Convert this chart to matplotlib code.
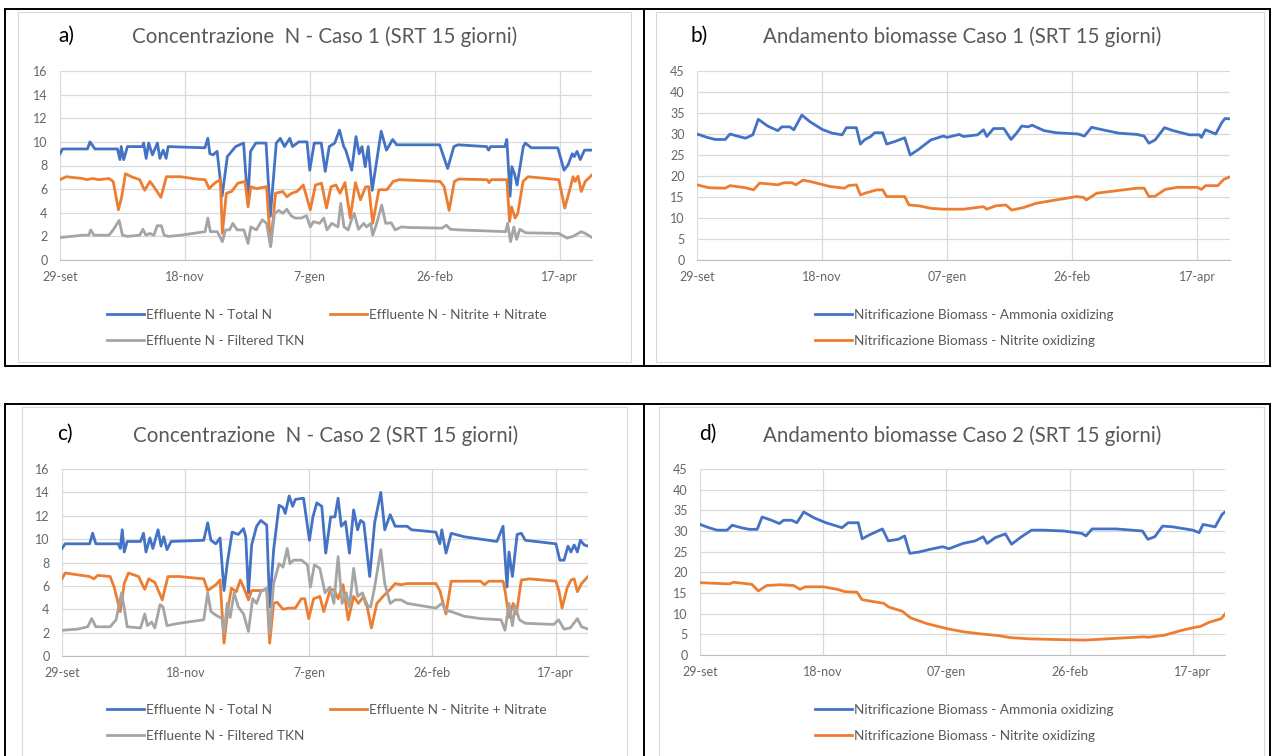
import matplotlib.pyplot as plt
from matplotlib.lines import Line2D
from matplotlib.patches import Rectangle

plt.rcParams['font.family'] = ['Lato', 'DejaVu Sans']

# ---- Caso 1: concentrazioni N (days from 29-set) ----
a_tn_day = [0, 1, 11, 12, 14, 23, 24, 24.5, 25.5, 27, 33, 33.5, 34.5, 35.5, 37, 39, 40, 41.3, 42.5, 43.3,
            58, 59.2, 60, 61.3, 62.9, 64.9, 67, 70.3, 73.5, 75.2, 76.3, 78.4, 82.5, 84.2, 86.6, 88.2, 89.9,
            92, 93.1, 95.6, 98.9, 100, 101.8, 104.6, 106.2, 107.8, 110, 111.9, 113.6, 114.4, 115.2, 116.8,
            118.5, 119.8, 120.9, 122.2, 123.4, 125, 128.6, 130.7, 133.2, 134.8, 152, 155.2, 157.7, 159.3,
            170.8, 171.6, 172.4, 178.1, 178.9, 180.2, 180.9, 181.9, 183, 185.5, 186.3, 188.7, 199.3, 201.8,
            203.4, 205.1, 205.9, 207, 208.3, 210, 213]
a_tn_val = [9.0, 9.4, 9.4, 10.0, 9.4, 9.4, 8.5, 9.6, 8.5, 9.6, 9.6, 9.9, 8.6, 9.9, 8.9, 9.9, 8.6, 9.3, 8.6, 9.6,
            9.5, 10.3, 9.0, 8.9, 9.2, 5.4, 8.75, 9.6, 9.9, 4.8, 9.2, 9.9, 9.9, 3.7, 9.9, 10.3, 9.6,
            10.3, 9.6, 10.0, 10.0, 7.6, 9.9, 9.9, 7.5, 9.6, 9.9, 11.0, 9.6, 9.3, 8.75, 7.6,
            10.45, 9.0, 9.6, 7.9, 9.6, 5.9, 10.9, 9.3, 10.2, 9.75, 9.75, 7.75, 9.6, 9.75,
            9.6, 9.3, 9.6, 9.6, 10.2, 5.4, 7.9, 7.35, 6.35, 9.6, 9.9, 9.5, 9.5, 7.6,
            8.05, 9.0, 8.75, 9.2, 8.5, 9.3, 9.3]

a_nn_day = [0, 2.5, 9, 10.6, 13.1, 15.5, 19.6, 21.3, 23.4, 24.7, 26.2, 28.6, 31.9, 33.9, 36, 37.6, 40.4,
            42.6, 48.3, 54.8, 58.1, 59.7, 62.2, 64.2, 65, 66.6, 68.7, 71.2, 74.1, 75.3, 76.4, 78.6, 82.7,
            84.3, 86.3, 89.2, 90.8, 92.8, 94.9, 97.4, 100.2, 102.3, 104.7, 106.7, 108.5, 110.5, 112.1,
            114.1, 116.2, 118.3, 120.3, 122.4, 123.6, 125.2, 127.7, 130.9, 133.4, 135.8, 152.2, 153.8,
            155.8, 157.9, 159.6, 171, 171.8, 172.7, 178.9, 180, 180.8, 182.2, 183.3, 185.4, 187.4, 199.7,
            202.1, 204.1, 205.4, 206.2, 207.4, 208.7, 210.3, 213]
a_nn_val = [6.8, 7.05, 6.9, 6.8, 6.9, 6.8, 6.9, 6.65, 4.25, 5.35, 7.3, 7.05, 6.8, 5.9, 6.65, 6.2, 5.3,
            7.05, 7.05, 6.85, 6.8, 6.05, 6.55, 6.8, 2.25, 5.65, 5.8, 6.5, 6.65, 4.5, 6.2, 6.05, 6.2,
            1.15, 5.65, 5.8, 5.35, 5.65, 5.8, 6.35, 4.25, 6.35, 6.5, 4.4, 6.2, 6.35, 5.65,
            6.55, 3.55, 6.55, 5.1, 6.2, 6.2, 3.1, 5.95, 5.95, 6.65, 6.8, 6.65, 6.2,
            4.2, 6.65, 6.85, 6.8, 6.55, 6.8, 6.8, 3.25, 4.5, 3.55, 3.95, 6.65, 7.05, 6.8,
            4.4, 5.95, 7.05, 6.65, 7.1, 5.8, 6.65, 7.2]

a_tkn_day = [0, 9, 11.5, 12.3, 13.6, 19.6, 21.3, 23.7, 25, 27, 31.9, 33.2, 34.4, 36, 37.6, 38.9, 40.6,
             41.7, 43.4, 48.3, 58.1, 59.2, 60.2, 63, 65, 66.3, 67.9, 69.2, 70.9, 73.6, 75.3, 76.4, 78.6,
             81, 82.7, 84.3, 85.9, 87.6, 89.2, 90.8, 92.5, 94.1, 96.6, 98.7, 100.2, 101.5, 103.9, 105.6,
             106.9, 108.8, 111.3, 112.4, 113.7, 115.4, 116.7, 117.8, 119.5, 121.6, 122.7, 124.4, 125.2,
             126.8, 128.8, 130.4, 132.6, 134.2, 136.7, 139.9, 153, 154.7, 156.3, 159.6, 178.4, 179.2,
             180.4, 181.7, 182.8, 184.1, 186.5, 199.7, 203, 205.4, 208.7, 210.3, 213]
a_tkn_val = [1.9, 2.1, 2.1, 2.55, 2.1, 2.1, 2.55, 3.35, 2.1, 2.0, 2.1, 2.6, 2.1, 2.25, 2.1, 2.9, 2.9,
             2.1, 2.0, 2.1, 2.4, 3.55, 2.4, 2.4, 1.55, 2.55, 2.55, 3.1, 2.55, 2.55, 1.4, 2.8, 2.55,
             3.4, 3.1, 1.15, 3.95, 4.2, 3.95, 4.3, 3.75, 3.55, 3.55, 3.75, 2.8, 3.25, 3.1, 3.55,
             2.55, 3.1, 2.8, 4.8, 2.8, 2.55, 3.4, 3.95, 2.6, 3.1, 2.8, 3.1, 2.1,
             3.1, 4.65, 3.1, 3.15, 2.55, 2.8, 2.75, 2.7, 2.95, 2.6, 2.55, 2.4, 3.1,
             1.55, 2.8, 1.75, 2.6, 2.3, 2.25, 1.85, 2.0, 2.4, 2.25, 1.9]

# ---- Caso 1: biomasse ----
b_aob_day = [0, 4, 7.3, 11.3, 13.2, 16.1, 19.4, 22.3, 24.5, 28.2, 32.3, 33.9, 37.1, 38.7, 41.9, 45.2, 50,
             54, 58, 59.7, 63.7, 65.3, 66.9, 69.4, 71, 74.2, 75.8, 79, 83, 85.2, 88.7, 93.5, 98.4, 100,
             104.8, 106.5, 112.1, 114.5, 115.8, 118.5, 122.6, 125.5, 127.7, 129.8, 132.3, 133.9, 138.7,
             143.5, 152.4, 154.8, 157.7, 161.3, 168.5, 175.8, 178.7, 180.6, 183.1, 186.8, 190.3, 196.8,
             200.8, 201.6, 203.2, 207.3, 209.7, 211, 213]
b_aob_val = [30.0, 29.2, 28.7, 28.7, 30.0, 29.5, 29.0, 29.8, 33.5, 31.9, 30.8, 31.7, 31.7, 31.0, 34.5, 32.9,
             31.1, 30.2, 29.8, 31.5, 31.5, 27.6, 28.6, 29.4, 30.3, 30.3, 27.6, 28.2, 29.1, 25.0, 26.4,
             28.6, 29.5, 29.2, 29.9, 29.4, 29.8, 31.0, 29.4, 31.3, 31.3, 28.7, 30.2, 31.9, 31.7, 32.1,
             30.8, 30.3, 30.0, 29.5, 31.6, 31.1, 30.2, 29.9, 29.5, 27.8, 28.6, 31.5, 30.8, 29.8,
             29.8, 29.2, 31.0, 30.0, 32.7, 33.7, 33.6]

b_nob_day = [0, 4.8, 11.3, 13.2, 19.4, 22.6, 25, 29, 32.3, 34.7, 37.9, 39.5, 42.3, 45.2, 53.2, 58.9, 60.5,
             63.7, 65.3, 67.7, 71.8, 74.2, 75.8, 83, 84.7, 88.7, 93.5, 98.4, 101.6, 106.5, 114.5, 115.8,
             119.4, 123.4, 125.8, 130.6, 135.5, 143.5, 151.6, 154.5, 155.6, 159.7, 167.7, 175.8, 178.7,
             180.6, 183.1, 187.1, 191.9, 200, 201.6, 203.2, 208.1, 210.5, 213]
b_nob_val = [17.9, 17.2, 17.1, 17.7, 17.2, 16.7, 18.3, 18.1, 17.9, 18.4, 18.4, 17.9, 19.0, 18.7, 17.5, 17.1,
             17.7, 17.9, 15.5, 16.0, 16.7, 16.7, 15.1, 15.1, 13.1, 12.9, 12.3, 12.1, 12.1, 12.1, 12.7,
             12.1, 12.9, 13.1, 11.9, 12.5, 13.5, 14.3, 15.1, 14.9, 14.3, 15.9, 16.5, 17.1, 17.1,
             15.1, 15.2, 16.8, 17.3, 17.3, 16.8, 17.7, 17.7, 19.2, 19.8]

# ---- Caso 2: concentrazioni N ----
c_tn_day = [0, 1.3, 11.2, 12.4, 13.7, 22.8, 23.6, 24.4, 25.2, 26.4, 31.8, 33, 34, 35.6, 36.8, 38.9, 40.1,
            41.2, 42.5, 44.2, 57.4, 59, 60.3, 62.3, 64, 65.6, 66.9, 68.9, 71.4, 73.5, 74.4, 75.5, 76.8,
            78.8, 80.5, 82.9, 84.1, 85.7, 87.9, 89.5, 90.4, 92, 93.4, 94.5, 97.8, 100.2, 101.6, 103.2,
            105.2, 106.8, 108.8, 110.5, 111.8, 113.1, 114.8, 116.4, 118.1, 119.7, 120.9, 122.2, 124.6,
            126.6, 129.1, 130.7, 132.9, 134.9, 139.8, 141.5, 151.4, 153, 153.8, 155.5, 157.6, 162.9,
            169.5, 176.1, 178.6, 180.2, 181, 182.4, 184.3, 186, 187.6, 200, 201.6, 203.3, 204.9, 206.1,
            207.4, 208.7, 209.9, 211.5, 213]
c_tn_val = [9.2, 9.6, 9.6, 10.5, 9.6, 9.6, 9.2, 10.8, 8.9, 9.8, 9.8, 10.5, 8.9, 10.1, 9.2, 10.8, 9.4,
            10.2, 9.1, 9.8, 9.9, 11.4, 9.9, 9.6, 10.1, 5.6, 7.9, 10.6, 10.4, 10.9, 10.2, 5.4, 9.5,
            11.1, 11.6, 11.2, 4.2, 9.1, 12.9, 12.7, 12.2, 13.7, 12.8, 13.4, 13.5, 9.9, 11.9, 13.1,
            12.8, 8.8, 11.9, 11.9, 13.5, 11.1, 11.5, 8.8, 12.5, 10.8, 11.6, 11.4, 6.8,
            11.4, 14.0, 10.8, 12.1, 11.1, 11.1, 10.8, 10.6, 9.6, 10.8, 8.8, 10.5, 10.2,
            10.0, 9.8, 11.1, 5.9, 8.9, 6.8, 10.4, 10.5, 9.9, 9.6, 8.2, 8.2, 9.4, 8.9,
            9.5, 8.9, 9.9, 9.5, 9.4]

c_nn_day = [0, 1.3, 11.2, 12.9, 14.5, 19.5, 21.1, 23.6, 25.2, 26.9, 31, 33.5, 35.1, 37.6, 40.6, 42.9,
            47.5, 57.4, 59, 62.3, 64, 65.6, 67.3, 68.6, 70.6, 72.2, 73.5, 75.5, 76.8, 80.5, 82.9, 84.1,
            85.7, 87.1, 89.5, 92, 94.5, 96.9, 98.3, 99.9, 101.9, 104.4, 106, 108.5, 110.1, 111.8, 113.8,
            115.9, 118.1, 120, 122.2, 123.3, 125.3, 127.5, 130, 132.9, 134.9, 137.3, 139.8, 151.4, 153,
            155.5, 157.6, 169.5, 171.1, 172.8, 178.6, 179.4, 181, 182.7, 184, 186, 189.3, 200, 201.2,
            202.5, 204.5, 206.1, 207.4, 208.7, 210.4, 213]
c_nn_val = [6.6, 7.1, 6.8, 6.6, 6.9, 6.8, 5.9, 3.8, 6.2, 7.1, 6.8, 5.7, 6.6, 6.3, 4.8, 6.8,
            6.8, 6.6, 5.6, 6.1, 6.5, 1.1, 4.2, 5.8, 5.5, 6.5, 5.9, 4.8, 5.6, 5.6, 5.7, 1.1,
            4.5, 4.6, 4.0, 4.1, 4.1, 4.9, 4.9, 3.2, 4.9, 5.1, 3.8, 5.6, 5.7, 4.9, 6.1,
            3.1, 5.1, 4.5, 5.1, 4.5, 2.4, 4.5, 5.1, 5.7, 6.2, 6.1, 6.2, 6.2, 5.6,
            3.6, 6.4, 6.4, 6.1, 6.4, 6.4, 5.6, 3.3, 4.5, 3.6, 6.5, 6.6, 6.4, 5.6,
            4.1, 5.8, 6.5, 6.6, 5.5, 6.2, 6.8]

c_tkn_day = [0, 6.3, 10.4, 12, 13.7, 19.5, 21.9, 24.1, 25.2, 26.4, 31.8, 33.5, 34.6, 36.3, 37.6, 39.7,
             40.9, 42.5, 47.5, 57.4, 59, 60.3, 62.3, 64.8, 65.6, 66.9, 68.1, 69.7, 71.4, 73.5, 75.5, 77.2,
             78.8, 80.5, 82.9, 84.1, 85.7, 87.9, 89.5, 91.2, 92.3, 93.7, 97, 99.4, 100.6, 102.2, 104.4,
             106.5, 108.5, 110.1, 111.8, 113.4, 115.1, 116.4, 118.1, 119.7, 121.7, 123, 125, 126.6,
             129.1, 130.7, 132.9, 134.9, 137.3, 139.8, 151.4, 153.8, 155.5, 157.6, 162.9, 169.5, 177.8,
             179.4, 181, 182.4, 183.5, 185.2, 187.6, 199.1, 201.1, 203.3, 205.8, 208.7, 210.4, 213]
c_tkn_val = [2.2, 2.3, 2.5, 3.2, 2.5, 2.5, 3.1, 5.4, 4.1, 2.5, 2.4, 3.6, 2.6, 2.9, 2.4, 4.4,
             4.2, 2.6, 2.8, 3.1, 5.4, 3.8, 3.5, 3.2, 1.9, 4.5, 3.3, 5.4, 4.2, 3.6, 2.1, 4.9,
             4.5, 5.5, 5.8, 1.9, 6.2, 7.9, 7.6, 9.2, 7.9, 8.2, 8.2, 7.8, 5.9, 7.8, 7.5,
             5.4, 5.9, 4.5, 8.5, 4.5, 5.4, 4.2, 7.5, 5.1, 5.4, 4.4, 4.2, 5.9,
             9.1, 6.2, 4.5, 4.8, 4.8, 4.5, 4.1, 4.5, 3.9, 3.8, 3.4, 3.2, 3.1,
             2.2, 4.5, 2.6, 4.3, 3.1, 2.8, 2.7, 3.1, 2.3, 2.4, 3.2, 2.5, 2.3]

# ---- Caso 2: biomasse ----
d_aob_day = [0, 3.6, 6.9, 11, 13.1, 16.7, 20, 23.2, 25.2, 29, 32.2, 33.9, 37.2, 39.3, 42.1, 46.2, 51.1,
             57.6, 60.1, 64.2, 65.8, 68.2, 70.7, 74, 76.4, 80.5, 83, 85.1, 88.7, 93.6, 98.5, 101, 106.7,
             111.6, 114.9, 116.5, 119.8, 123.9, 126.4, 130.4, 134.5, 139.4, 147.6, 155, 156.6, 159.1,
             168.9, 179.5, 181.7, 184.5, 187.7, 191.8, 200, 202.5, 204.1, 209, 211.8, 213]
d_aob_val = [31.6, 30.8, 30.2, 30.2, 31.4, 30.8, 30.4, 30.4, 33.4, 32.6, 31.8, 32.6, 32.6, 32.0, 34.6, 33.2,
             32.0, 30.8, 32.0, 32.0, 28.1, 28.9, 29.6, 30.5, 27.6, 28.0, 28.8, 24.6, 24.9, 25.6, 26.2,
             25.7, 27.0, 27.6, 28.6, 27.0, 28.4, 29.3, 26.8, 28.6, 30.2, 30.2, 30.0, 29.4, 28.8, 30.5,
             30.5, 30.0, 28.0, 28.6, 31.2, 31.0, 30.2, 29.6, 31.6, 31.0, 34.0, 34.6]

d_nob_day = [0, 8, 12, 13.6, 21, 23.7, 27, 32.5, 38, 40.6, 42.7, 50, 55.6, 59, 63.7, 65.7, 70.5, 74.5,
             76.6, 82, 85.4, 92, 100, 107, 114, 121, 126, 134, 148, 156, 165, 174, 180, 182, 188.5, 195,
             200, 203, 206.5, 211.5, 213]
d_nob_val = [17.5, 17.3, 17.2, 17.6, 17.1, 15.5, 16.8, 17.0, 16.8, 15.9, 16.5, 16.5, 15.9, 15.3, 15.2,
             13.4, 12.9, 12.5, 11.6, 10.6, 9.0, 7.6, 6.4, 5.6, 5.1, 4.7, 4.2, 3.9, 3.7, 3.6, 3.9, 4.2,
             4.4, 4.3, 4.8, 5.9, 6.6, 6.9, 7.9, 8.8, 9.9]

tick_days = [0, 50, 100, 150, 200]
labels_n = ['29-set', '18-nov', '7-gen', '26-feb', '17-apr']
labels_bio = ['29-set', '18-nov', '07-gen', '26-feb', '17-apr']

lab_tn = 'Effluente N - Total N'
lab_nn = 'Effluente N - Nitrite + Nitrate'
lab_tkn = 'Effluente N - Filtered TKN'
lab_aob = 'Nitrificazione Biomass - Ammonia oxidizing'
lab_nob = 'Nitrificazione Biomass - Nitrite oxidizing'

BLUE, ORANGE, GREY = '#4472C4', '#ED7D31', '#A5A5A5'
TXT = '#595959'
W, H = 1272, 756

fig = plt.figure(figsize=(W / 100, H / 100), dpi=100)


def fx(x):
    return x / W


def fy(y):
    return 1 - y / H


def panel(box, series, ymax, ystep, xlabels, title, tag, title_xy, tag_xy, leg_xy, ncol):
    x0, y0, x1, y1 = box
    ax = fig.add_axes([fx(x0), fy(y1), (x1 - x0) / W, (y1 - y0) / H])
    lines = {}
    for days, vals, color, label in series:
        lines[label], = ax.plot(days, vals, color=color, lw=2.0, label=label)
    ax.set_xlim(0, 213)
    ax.set_ylim(0, ymax)
    ax.set_xticks(tick_days, xlabels)
    ax.set_yticks(range(0, ymax + 1, ystep))
    ax.grid(color='#d9d9d9', lw=0.9)
    ax.set_axisbelow(True)
    for s in ('top', 'right', 'left'):
        ax.spines[s].set_visible(False)
    ax.spines['bottom'].set_color('#bfbfbf')
    ax.tick_params(length=0, labelsize=9, labelcolor='#666666')
    ax.tick_params(axis='y', pad=9)
    ax.tick_params(axis='x', pad=8)

    fig.text(fx(title_xy[0]), fy(title_xy[1]), title, ha='center', va='center',
             fontsize=14.8, color=TXT)
    fig.text(fx(tag_xy[0]), fy(tag_xy[1]), tag, ha='left', va='center',
             fontsize=15, color='black')

    if ncol == 2:
        order = [lab_tn, lab_tkn, lab_nn]
    else:
        order = [s[3] for s in series]
    fig.legend([lines[k] for k in order], order, loc='center', ncol=ncol,
               bbox_to_anchor=(fx(leg_xy[0]), fy(leg_xy[1])), frameon=False,
               fontsize=9.8, labelcolor=TXT, handlelength=2.7, handletextpad=0.15,
               columnspacing=1.9, labelspacing=1.05, borderpad=0, borderaxespad=0)


panel((60, 71, 592, 260),
      [(a_tn_day, a_tn_val, BLUE, lab_tn), (a_nn_day, a_nn_val, ORANGE, lab_nn),
       (a_tkn_day, a_tkn_val, GREY, lab_tkn)],
      16, 2, labels_n, 'Concentrazione  N - Caso 1 (SRT 15 giorni)', 'a)',
      (325, 37), (58, 36), (327, 328), 2)

panel((697, 71, 1230, 260),
      [(b_aob_day, b_aob_val, BLUE, lab_aob), (b_nob_day, b_nob_val, ORANGE, lab_nob)],
      45, 5, labels_bio, 'Andamento biomasse Caso 1 (SRT 15 giorni)', 'b)',
      (962, 37), (691, 36), (964, 328), 1)

panel((62, 469, 588, 656),
      [(c_tn_day, c_tn_val, BLUE, lab_tn), (c_nn_day, c_nn_val, ORANGE, lab_nn),
       (c_tkn_day, c_tkn_val, GREY, lab_tkn)],
      16, 2, labels_n, 'Concentrazione  N - Caso 2 (SRT 15 giorni)', 'c)',
      (326, 436), (57, 434), (327, 723), 2)

panel((700, 469, 1225, 655),
      [(d_aob_day, d_aob_val, BLUE, lab_aob), (d_nob_day, d_nob_val, ORANGE, lab_nob)],
      45, 5, labels_bio, 'Andamento biomasse Caso 2 (SRT 15 giorni)', 'd)',
      (962, 436), (699, 434), (964, 723), 1)

# light chart-area frames
for x0, y0, x1, y1 in [(18, 12, 631, 362), (656, 12, 1264, 362), (22, 407, 627, 760), (659, 407, 1264, 760)]:
    fig.add_artist(Rectangle((fx(x0), fy(y1)), (x1 - x0) / W, (y1 - y0) / H,
                             fill=False, edgecolor='#d9d9d9', lw=0.8))

# table borders
table = [((5, 1270), (9, 9)), ((5, 1270), (366, 366)), ((5, 5), (9, 366)), ((644, 644), (9, 366)),
         ((1270, 1270), (9, 366)), ((5, 1270), (404, 404)), ((5, 5), (404, 756)),
         ((644, 644), (404, 756)), ((1270, 1270), (404, 756))]
for xs, ys in table:
    fig.add_artist(Line2D([fx(v) for v in xs], [fy(v) for v in ys], color='black', lw=1.4))

fig.savefig('out.png', dpi=100)
